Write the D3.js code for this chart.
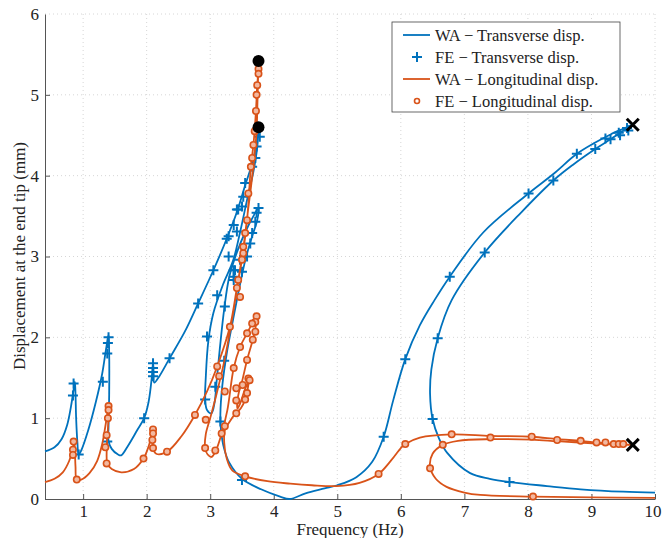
<!DOCTYPE html>
<html><head><meta charset="utf-8">
<script src="https://cdn.jsdelivr.net/npm/d3@7"></script>
<style>body{margin:0;background:#fff}svg{display:block}</style>
</head><body><svg id="c" width="662" height="538"></svg>
<script>
// ---- data ----
const xTicks = [1,2,3,4,5,6,7,8,9,10];
const yTicks = [0,1,2,3,4,5,6];
const legendLabels = ["WA \u2212 Transverse disp.","FE \u2212 Transverse disp.","WA \u2212 Longitudinal disp.","FE \u2212 Longitudinal disp."];

const waTransverse = [[0.4,0.59],[0.55,0.64],[0.66,0.74],[0.75,0.92],[0.81,1.15],[0.85,1.35],[0.87,1.45],[0.88,1.3],[0.89,1.0],[0.91,0.7],[0.93,0.55],[0.97,0.6],[1.08,0.85],[1.2,1.2],[1.3,1.55],[1.36,1.85],[1.4,2.03],[1.41,1.8],[1.41,1.3],[1.4,0.9],[1.4,0.72],[1.45,0.62],[1.55,0.55],[1.6,0.54],[1.7,0.65],[1.85,0.85],[1.96,1.0],[2.03,1.2],[2.08,1.5],[2.1,1.69],[2.11,1.55],[2.12,1.44],[2.2,1.52],[2.36,1.74],[2.6,2.07],[2.81,2.42],[3.05,2.83],[3.26,3.22],[3.42,3.55],[3.55,3.88],[3.66,4.15],[3.73,4.4],[3.76,4.6],
 [3.74,4.35],[3.68,4.05],[3.58,3.7],[3.47,3.3],[3.36,2.95],[3.2,2.65],[3.05,2.3],[2.97,1.95],[2.93,1.5],[2.92,1.23],[2.95,1.1],[3.02,1.06],[3.07,1.2],[3.1,1.45],[3.15,1.85],[3.22,2.35],[3.3,2.75],[3.42,3.05],[3.55,3.3],[3.68,3.5],[3.76,3.6],
 [3.74,3.45],[3.66,3.25],[3.56,2.98],[3.46,2.62],[3.36,2.22],[3.26,1.8],[3.19,1.4],[3.16,1.05],[3.17,0.85],[3.22,0.62],[3.3,0.45],[3.5,0.25],[3.8,0.12],[4.1,0.03],[4.25,0.0],[4.5,0.07],[4.8,0.13],[5.0,0.17],[5.3,0.27],[5.55,0.46],[5.73,0.77],[5.88,1.22],[6.07,1.73],[6.3,2.15],[6.53,2.46],[6.77,2.75],[7.3,3.3],[8.01,3.78],[8.4,4.02],[8.77,4.27],[9.06,4.41],[9.3,4.51],[9.5,4.58],[9.65,4.63],
 [9.45,4.53],[9.3,4.45],[9.06,4.33],[8.7,4.13],[8.4,3.94],[7.9,3.55],[7.32,3.05],[6.8,2.46],[6.58,1.99],[6.48,1.6],[6.46,1.3],[6.5,0.99],[6.6,0.75],[6.73,0.57],[7.09,0.32],[7.4,0.25],[7.71,0.21],[8.3,0.16],[8.83,0.12],[9.5,0.09],[10,0.08]];

const waLongitudinal = [[0.4,0.21],[0.55,0.25],[0.68,0.33],[0.78,0.47],[0.83,0.6],[0.86,0.71],[0.87,0.6],[0.88,0.4],[0.9,0.24],[0.97,0.24],[1.1,0.32],[1.22,0.47],[1.3,0.68],[1.35,0.9],[1.38,1.05],[1.4,1.15],[1.4,1.0],[1.38,0.75],[1.37,0.52],[1.38,0.44],[1.45,0.37],[1.6,0.33],[1.8,0.37],[1.95,0.5],[2.03,0.65],[2.08,0.8],[2.1,0.86],[2.1,0.75],[2.1,0.63],[2.15,0.56],[2.32,0.585],[2.55,0.78],[2.76,1.04],[2.95,1.33],[3.11,1.64],[3.31,2.13],[3.42,2.61],[3.5,2.96],[3.58,3.45],[3.64,4.11],[3.68,4.38],[3.72,4.8],[3.74,5.12],[3.76,5.32],[3.76,5.42],
 [3.75,5.1],[3.74,4.8],[3.73,4.55],[3.67,4.05],[3.6,3.6],[3.52,3.1],[3.44,2.7],[3.35,2.25],[3.22,1.7],[3.1,1.3],[3.0,1.0],[2.93,0.8],[2.92,0.63],[2.96,0.55],[3.02,0.52],[3.09,0.6],[3.18,0.81],[3.27,1.1],[3.37,1.62],[3.47,1.88],[3.58,2.05],[3.66,2.17],[3.73,2.26],[3.72,2.15],[3.67,1.97],[3.58,1.72],[3.5,1.45],[3.44,1.28],[3.43,1.12],[3.47,1.18],[3.53,1.32],[3.58,1.42],[3.61,1.49],[3.59,1.36],[3.55,1.23],[3.48,1.12],[3.39,1.05],[3.3,0.95],[3.23,0.85],[3.22,0.7],[3.26,0.5],[3.35,0.35],[3.55,0.28],[3.9,0.22],[4.26,0.19],[4.6,0.17],[4.99,0.16],[5.35,0.2],[5.65,0.31],[5.85,0.48],[6.0,0.63],[6.07,0.68],[6.3,0.76],[6.8,0.8],[7.41,0.78],[8.06,0.77],[8.46,0.74],[8.83,0.72],[9.08,0.7],[9.35,0.68],[9.65,0.67],
 [9.35,0.675],[9.08,0.685],[8.46,0.715],[8.06,0.735],[7.41,0.74],[6.9,0.72],[6.66,0.67],[6.5,0.56],[6.46,0.4],[6.55,0.25],[6.72,0.15],[7.0,0.08],[7.25,0.05],[8.08,0.03],[9,0.02],[10,0.015]];

const feTransverse = [[0.85,1.43],[0.84,1.28],[0.93,0.55],[1.4,2.0],[1.39,1.93],[1.38,1.8],[1.31,1.45],[1.38,0.71],[1.96,1.0],[2.1,1.68],[2.1,1.62],[2.1,1.57],[2.1,1.52],[2.36,1.74],[2.81,2.42],[3.05,2.83],[3.26,3.22],[3.42,3.58],[3.5,3.62],[2.95,2.01],[2.92,1.23],[3.08,1.39],[3.16,0.96],[3.22,1.71],[3.23,2.38],[3.11,2.52],[3.29,3.0],[3.37,2.83],[3.37,2.75],[3.42,3.31],[3.5,2.81],[3.5,0.235],[3.78,4.48],[3.73,4.36],[3.71,4.22],[3.66,4.11],[3.55,3.91],[3.52,3.74],[3.44,3.58],[3.37,3.39],[3.29,3.25],[3.76,3.6],[3.73,3.54],[3.71,3.43],[3.66,3.29],[3.63,3.16],[3.58,3.0],[3.47,2.96],[3.39,2.83],[3.37,2.71],[5.73,0.77],[6.07,1.73],[6.58,1.99],[6.5,0.99],[7.71,0.21],[6.77,2.75],[7.32,3.05],[8.01,3.78],[8.4,3.94],[8.77,4.27],[9.06,4.33],[9.22,4.46],[9.3,4.45],[9.43,4.53],[9.45,4.5],[9.56,4.59],[9.58,4.56]];

const feLongitudinal = [[0.85,0.71],[0.84,0.61],[0.84,0.545],[0.9,0.24],[1.4,1.15],[1.4,1.1],[1.39,1.0],[1.37,0.79],[1.35,0.64],[1.37,0.44],[1.95,0.5],[2.1,0.86],[2.1,0.81],[2.09,0.73],[2.1,0.63],[2.32,0.585],[2.76,1.04],[2.93,0.98],[2.92,0.63],[3.08,0.6],[3.11,1.64],[3.14,1.52],[3.23,1.33],[3.23,0.9],[3.18,0.81],[3.31,2.13],[3.37,1.62],[3.41,1.37],[3.41,1.22],[3.41,1.06],[3.47,1.88],[3.52,3.04],[3.42,2.61],[3.47,2.5],[3.58,2.05],[3.58,1.72],[3.51,1.41],[3.55,1.23],[3.58,1.31],[3.6,1.49],[3.62,1.47],[3.67,1.97],[3.71,2.07],[3.73,2.26],[3.71,2.19],[3.66,2.17],[3.55,0.28],[3.76,5.32],[3.76,5.26],[3.74,5.12],[3.73,5.0],[3.72,4.8],[3.7,4.55],[3.68,4.38],[3.66,4.22],[3.64,4.11],[3.6,3.78],[3.58,3.45],[3.55,3.29],[3.52,3.12],[3.5,2.96],[3.44,2.71],[5.65,0.31],[6.07,0.68],[6.8,0.8],[7.41,0.76],[8.06,0.77],[8.46,0.73],[8.83,0.72],[9.08,0.7],[9.22,0.7],[9.35,0.68],[9.43,0.68],[9.5,0.68],[6.66,0.67],[6.46,0.38],[8.08,0.03]];

const blackDots = [[3.76,5.42],[3.76,4.6]];
const blackCrosses = [[9.65,4.63],[9.65,0.67]];

// ---- font pick: first installed serif face ----
function pickFont(){
  const cands = ["Liberation Serif","Times New Roman","Tinos","DejaVu Serif","Noto Serif","FreeSerif","Nimbus Roman","Times"];
  const ctx = document.createElement("canvas").getContext("2d");
  const s = "WA Transverse disp. Hz 0123456789 mmm";
  const base = ["monospace","sans-serif"].map(b=>{ctx.font="20px "+b;return ctx.measureText(s).width;});
  for (const f of cands){
    const w = ["monospace","sans-serif"].map(b=>{ctx.font=`20px "${f}", ${b}`;return ctx.measureText(s).width;});
    if (w[0]!==base[0] && w[1]!==base[1]) return `"${f}", serif`;
  }
  return "serif";
}
const FONT = pickFont();

// ---- drawing ----
const blue = "#0072BD", orange = "#D95319";
const svg = d3.select("#c").style("font-family",FONT);
const x = d3.scaleLinear().domain([0.4,10]).range([45,655]);
const y = d3.scaleLinear().domain([0,6]).range([499,14]);

const g = svg.append("g");
g.selectAll(".gx").data(xTicks).enter().append("line")
 .attr("x1",d=>x(d)).attr("x2",d=>x(d)).attr("y1",y(0)).attr("y2",y(6))
 .attr("stroke","#d6d6d6").attr("stroke-width",1).attr("stroke-dasharray","1,3");
g.selectAll(".gy").data(yTicks.slice(1)).enter().append("line")
 .attr("x1",x(0.4)).attr("x2",x(10)).attr("y1",d=>y(d)).attr("y2",d=>y(d))
 .attr("stroke","#d6d6d6").attr("stroke-width",1).attr("stroke-dasharray","1,3");

const xAxis = d3.axisBottom(x).tickValues(xTicks).tickFormat(d3.format("d")).tickSizeInner(-5).tickSizeOuter(0).tickPadding(6);
const yAxis = d3.axisLeft(y).tickValues(yTicks).tickFormat(d3.format("d")).tickSizeInner(-5).tickSizeOuter(0).tickPadding(6);
const ax = svg.append("g").attr("transform",`translate(0,${y(0)})`).call(xAxis);
const ay = svg.append("g").attr("transform",`translate(${x(0.4)},0)`).call(yAxis);
[ax,ay].forEach(a=>{
  a.attr("font-family",null).style("font-family",FONT).attr("font-size",17);
  a.select(".domain").attr("stroke","#555").attr("stroke-width",1);
  a.selectAll(".tick line").attr("stroke","#555");
  a.selectAll("text").attr("fill","#222");
});
ay.selectAll(".tick").filter(d=>d===6).select("line").remove();
ax.selectAll(".tick").filter(d=>d===10).select("text").attr("text-anchor","end").attr("x",6);

svg.append("text").attr("x",350).attr("y",535).attr("text-anchor","middle").attr("font-size",17).attr("fill","#222").text("Frequency (Hz)");
svg.append("text").attr("transform","translate(25,256) rotate(-90)").attr("text-anchor","middle").attr("font-size",17).attr("fill","#222").text("Displacement at the end tip (mm)");

const line = d3.line().x(d=>x(d[0])).y(d=>y(d[1])).curve(d3.curveCatmullRom.alpha(0.5));
const plot = svg.append("g");
plot.append("path").attr("d",line(waTransverse)).attr("fill","none").attr("stroke",blue).attr("stroke-width",1.8);
plot.selectAll(".pl").data(feTransverse).enter().append("path")
 .attr("d",d=>`M${x(d[0])-5},${y(d[1])}h10M${x(d[0])},${y(d[1])-5}v10`)
 .attr("stroke",blue).attr("stroke-width",2);
plot.append("path").attr("d",line(waLongitudinal)).attr("fill","none").attr("stroke",orange).attr("stroke-width",1.8);
plot.selectAll(".ci").data(feLongitudinal).enter().append("circle")
 .attr("cx",d=>x(d[0])).attr("cy",d=>y(d[1])).attr("r",3.2)
 .attr("fill","#f2b8a0").attr("stroke",orange).attr("stroke-width",1.6);
plot.selectAll(".bd").data(blackDots).enter().append("circle")
 .attr("cx",d=>x(d[0])).attr("cy",d=>y(d[1])).attr("r",6).attr("fill","#000");
plot.selectAll(".bx").data(blackCrosses).enter().append("path")
 .attr("d",d=>`M${x(d[0])-6},${y(d[1])-6}l12,12M${x(d[0])-6},${y(d[1])+6}l12,-12`)
 .attr("stroke","#000").attr("stroke-width",3);

const lg = svg.append("g").attr("font-size",16.5).attr("fill","#222");
lg.append("rect").attr("x",392).attr("y",22).attr("width",228).attr("height",90).attr("fill","#fff").attr("stroke","#444").attr("stroke-width",0.8);
const rows = [35,57,79,101];
lg.selectAll("text.l").data(legendLabels).enter().append("text")
 .attr("x",435).attr("y",(d,i)=>rows[i]+5.5).text(d=>d);
lg.append("line").attr("x1",403).attr("x2",430).attr("y1",rows[0]).attr("y2",rows[0]).attr("stroke",blue).attr("stroke-width",1.8);
lg.append("path").attr("d",`M${417-5},${rows[1]}h10M417,${rows[1]-5}v10`).attr("stroke",blue).attr("stroke-width",2);
lg.append("line").attr("x1",403).attr("x2",430).attr("y1",rows[2]).attr("y2",rows[2]).attr("stroke",orange).attr("stroke-width",1.8);
lg.append("circle").attr("cx",417).attr("cy",rows[3]).attr("r",2.5).attr("fill","#fff").attr("stroke",orange).attr("stroke-width",1.6);
</script></body></html>
